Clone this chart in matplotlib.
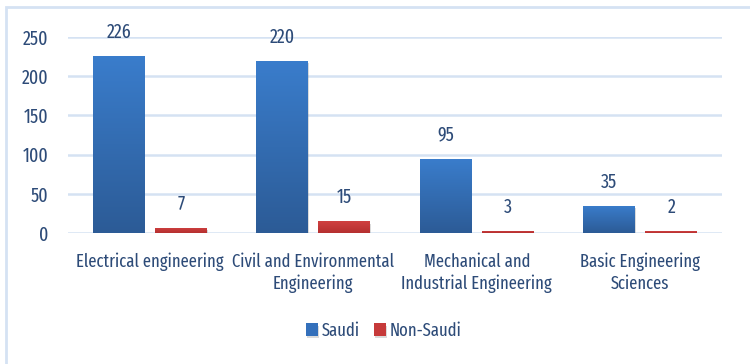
import matplotlib
matplotlib.use("Agg")
import matplotlib.pyplot as plt
import numpy as np
from matplotlib.patches import Rectangle
from matplotlib.colors import LinearSegmentedColormap
from matplotlib import font_manager as fm
import matplotlib.patheffects as pe

categories = ["Electrical engineering", "Civil and Environmental\nEngineering",
              "Mechanical and\nIndustrial Engineering", "Basic Engineering\nSciences"]
saudi = [226, 220, 95, 35]
non_saudi = [7, 15, 3, 2]
series_names = ["Saudi", "Non-Saudi"]
yticks = [0, 50, 100, 150, 200, 250]

text_color = "#2d4b78"
grid_color = "#d5e2f3"


def narrow_font():
    """Pick a regular-weight condensed/narrow face if one is installed."""
    best = None
    for f in fm.fontManager.ttflist:
        label = (f.name + " " + f.fname).lower()
        narrow = any(k in label for k in ("condensed", "narrow")) or \
            f.stretch in ("condensed", "semi-condensed", "extra-condensed", "ultra-condensed")
        if not narrow or f.style != "normal":
            continue
        if "bold" in label or "black" in label or "light" in label or "thin" in label \
                or "medium" in label or "semibold" in label:
            continue
        rank = 0 if "extracondensed" in label.replace("-", "").replace(" ", "") else 1
        if best is None or rank < best[0]:
            best = (rank, f.fname, f.name)
    return best


found = narrow_font()
if found:
    font_path = found[1]
    fp = lambda size: fm.FontProperties(fname=font_path, size=size)
else:
    fp = lambda size: fm.FontProperties(family="DejaVu Sans", size=size * 0.8)

fig = plt.figure(figsize=(7.5, 3.64), dpi=100)
fig.patch.set_facecolor("white")

# outer frame
fig.add_artist(Rectangle((6 / 750, -0.05), 1.1, 1 - 7 / 364 + 0.05,
                         transform=fig.transFigure, fill=False,
                         edgecolor=grid_color, linewidth=2))

ax = fig.add_axes([68 / 750, 131 / 364, 654 / 750, (233 - 37) / 364])
ax.set_xlim(-0.5, 3.5)
ax.set_ylim(0, 250)
for s in ax.spines.values():
    s.set_visible(False)
ax.set_yticks(yticks)
ax.set_yticklabels([str(t) for t in yticks], color=text_color, fontproperties=fp(14))
ax.tick_params(axis="y", length=0, pad=14)
ax.tick_params(axis="x", length=0, pad=14)
ax.yaxis.grid(True, color=grid_color, linewidth=1.8)
ax.set_axisbelow(True)
x = np.arange(len(categories))
ax.set_xticks(x)
ax.set_xticklabels(categories, color=text_color, linespacing=1.3, fontproperties=fp(13))

width = 0.318
offset = 0.19
grads = [
    LinearSegmentedColormap.from_list("blue", ["#2c5b96", "#3a7dcc"]),
    LinearSegmentedColormap.from_list("red", ["#b53030", "#d04040"]),
]
solid = ["#3470bb", "#c63a3a"]
grad_img = np.linspace(0, 1, 256).reshape(-1, 1)

for si, (vals, sign) in enumerate([(saudi, -1), (non_saudi, 1)]):
    bars = ax.bar(x + sign * offset, vals, width, color=solid[si], zorder=2,
                  label=series_names[si], linewidth=0)
    for b, v in zip(bars, vals):
        b.set_path_effects([pe.SimplePatchShadow(offset=(0.5, -2), shadow_rgbFace="#888888",
                                                 alpha=0.3), pe.Normal()])
        x0 = b.get_x()
        im = ax.imshow(grad_img, cmap=grads[si], aspect="auto", origin="lower",
                       extent=[x0, x0 + width, 0, v], zorder=3)
        im.set_clip_path(b)
        ax.annotate(str(v), (x0 + width / 2, v), xytext=(0, 10),
                    textcoords="offset points", ha="center", va="bottom",
                    color=text_color, fontproperties=fp(14))

ax.set_xlim(-0.5, 3.5)
ax.set_ylim(0, 250)

leg = ax.legend(loc="upper center", bbox_to_anchor=(0.483, -0.37), ncol=2, frameon=False,
                prop=fp(13), handlelength=0.65, handleheight=0.65,
                handletextpad=0.2, columnspacing=0.8)
for t in leg.get_texts():
    t.set_color(text_color)

fig.savefig("out.png", dpi=100)
